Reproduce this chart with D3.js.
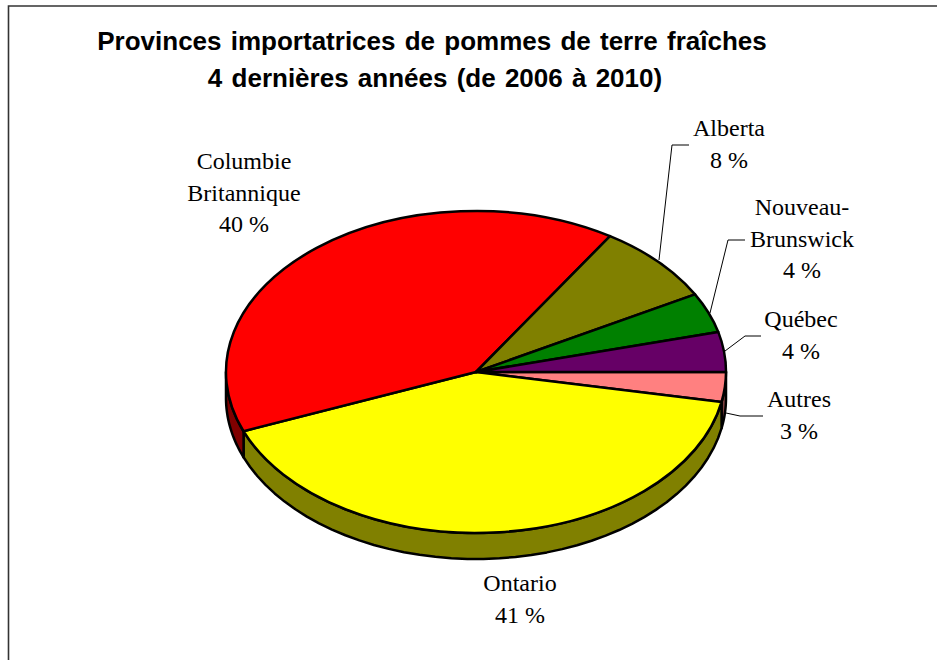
<!DOCTYPE html>
<html>
<head>
<meta charset="utf-8">
<script src="https://cdnjs.cloudflare.com/ajax/libs/d3/7.8.5/d3.min.js"></script>
<style>
html,body{margin:0;padding:0;background:#fff;}
svg{display:block;}
.lab{font-family:"Liberation Serif",serif;font-size:24px;fill:#000;text-anchor:middle;}
.ttl{font-family:"Liberation Sans",sans-serif;font-size:26px;font-weight:bold;fill:#000;text-anchor:middle;word-spacing:2px;}
</style>
</head>
<body>
<div id="chart"></div>
<script>
var width=937, height=660;

// same order as round the pie, clockwise from 3 o'clock
var categories=["Autres","Ontario","Columbie Britannique","Alberta","Nouveau-Brunswick","Québec"];
var values=[3,41,40,8,4,4];
var colors=["#ff8080","#ffff00","#ff0000","#808000","#008000","#660066"];
var sideColors=["#804040","#808000","#800000","#404000","#004000","#330033"];
var titleLines=["Provinces importatrices de pommes de terre fraîches","4 dernières années (de 2006 à 2010)"];

var labelLines=[["Autres"],["Ontario"],["Columbie","Britannique"],["Alberta"],["Nouveau-","Brunswick"],["Québec"]];
var labelPos=[[799,407],[520,591],[244,169],[729,136],[802,215],[801,327]];
var leaders=[
  [[726,413],[740,416],[763,416]],
  null,
  null,
  [[659,260],[672,145],[689,145]],
  [[710,313],[728,240],[745,240]],
  [[725,351],[745,336],[761,336]]
];

var cx=476, cy=372, rx=250, ry=161, depth=26;

var svg=d3.select("#chart").append("svg")
  .attr("width",width)
  .attr("height",height);

// frame, only left and top sides are on the picture
svg.append("path")
  .attr("d","M8.5,660V6H937")
  .attr("fill","none")
  .attr("stroke","#333")
  .attr("stroke-width",1.6);

svg.selectAll(".ttl")
  .data(titleLines)
  .enter()
  .append("text")
  .attr("class","ttl")
  .attr("x",function(d,i){return i==0?432:435;})
  .attr("y",function(d,i){return 50+i*37;})
  .text(function(d){return d;});

var pie=d3.pie()
  .sort(null)
  .startAngle(Math.PI/2)
  .endAngle(Math.PI/2+2*Math.PI);
var arcs=pie(values);

var x=d3.scaleLinear().domain([-1,1]).range([cx-rx,cx+rx]);
var y=d3.scaleLinear().domain([-1,1]).range([cy-ry,cy+ry]);

// side wall: only the part of a slice between 90 and 270 degrees shows
function wall(d){
  var a0=Math.max(d.startAngle,Math.PI/2);
  var a1=Math.min(d.endAngle,Math.PI*1.5);
  if(a1<=a0) return null;
  var top=d3.range(0,41).map(function(i){
    var a=a0+(a1-a0)*i/40;
    return [x(Math.sin(a)),y(-Math.cos(a))];
  });
  var bottom=top.map(function(p){return [p[0],p[1]+depth];}).reverse();
  return d3.line()(top.concat(bottom))+"Z";
}

svg.append("g").selectAll("path")
  .data(arcs)
  .enter()
  .append("path")
  .attr("d",wall)
  .attr("fill",function(d,i){return sideColors[i];})
  .attr("stroke","#000")
  .attr("stroke-width",2.5)
  .attr("stroke-linejoin","round");

var arc=d3.arc().innerRadius(0).outerRadius(1);

svg.append("g")
  .attr("transform","translate("+x(0)+","+y(0)+") scale("+rx+","+ry+")")
  .selectAll("path")
  .data(arcs)
  .enter()
  .append("path")
  .attr("d",arc)
  .attr("fill",function(d,i){return colors[i];})
  .attr("stroke","#000")
  .attr("stroke-width",2.5)
  .attr("stroke-linejoin","round")
  .attr("vector-effect","non-scaling-stroke");

// leader lines
svg.append("g").selectAll("path")
  .data(leaders.filter(function(d){return d;}))
  .enter()
  .append("path")
  .attr("d",d3.line())
  .attr("fill","none")
  .attr("stroke","#000")
  .attr("stroke-width",1);

// labels
categories.forEach(function(c,i){
  var lines=labelLines[i].concat([values[i]+" %"]);
  svg.selectAll(null)
    .data(lines)
    .enter()
    .append("text")
    .attr("class","lab")
    .attr("x",labelPos[i][0])
    .attr("y",function(d,j){return labelPos[i][1]+j*31.5;})
    .text(function(d){return d;});
});
</script>
</body>
</html>
